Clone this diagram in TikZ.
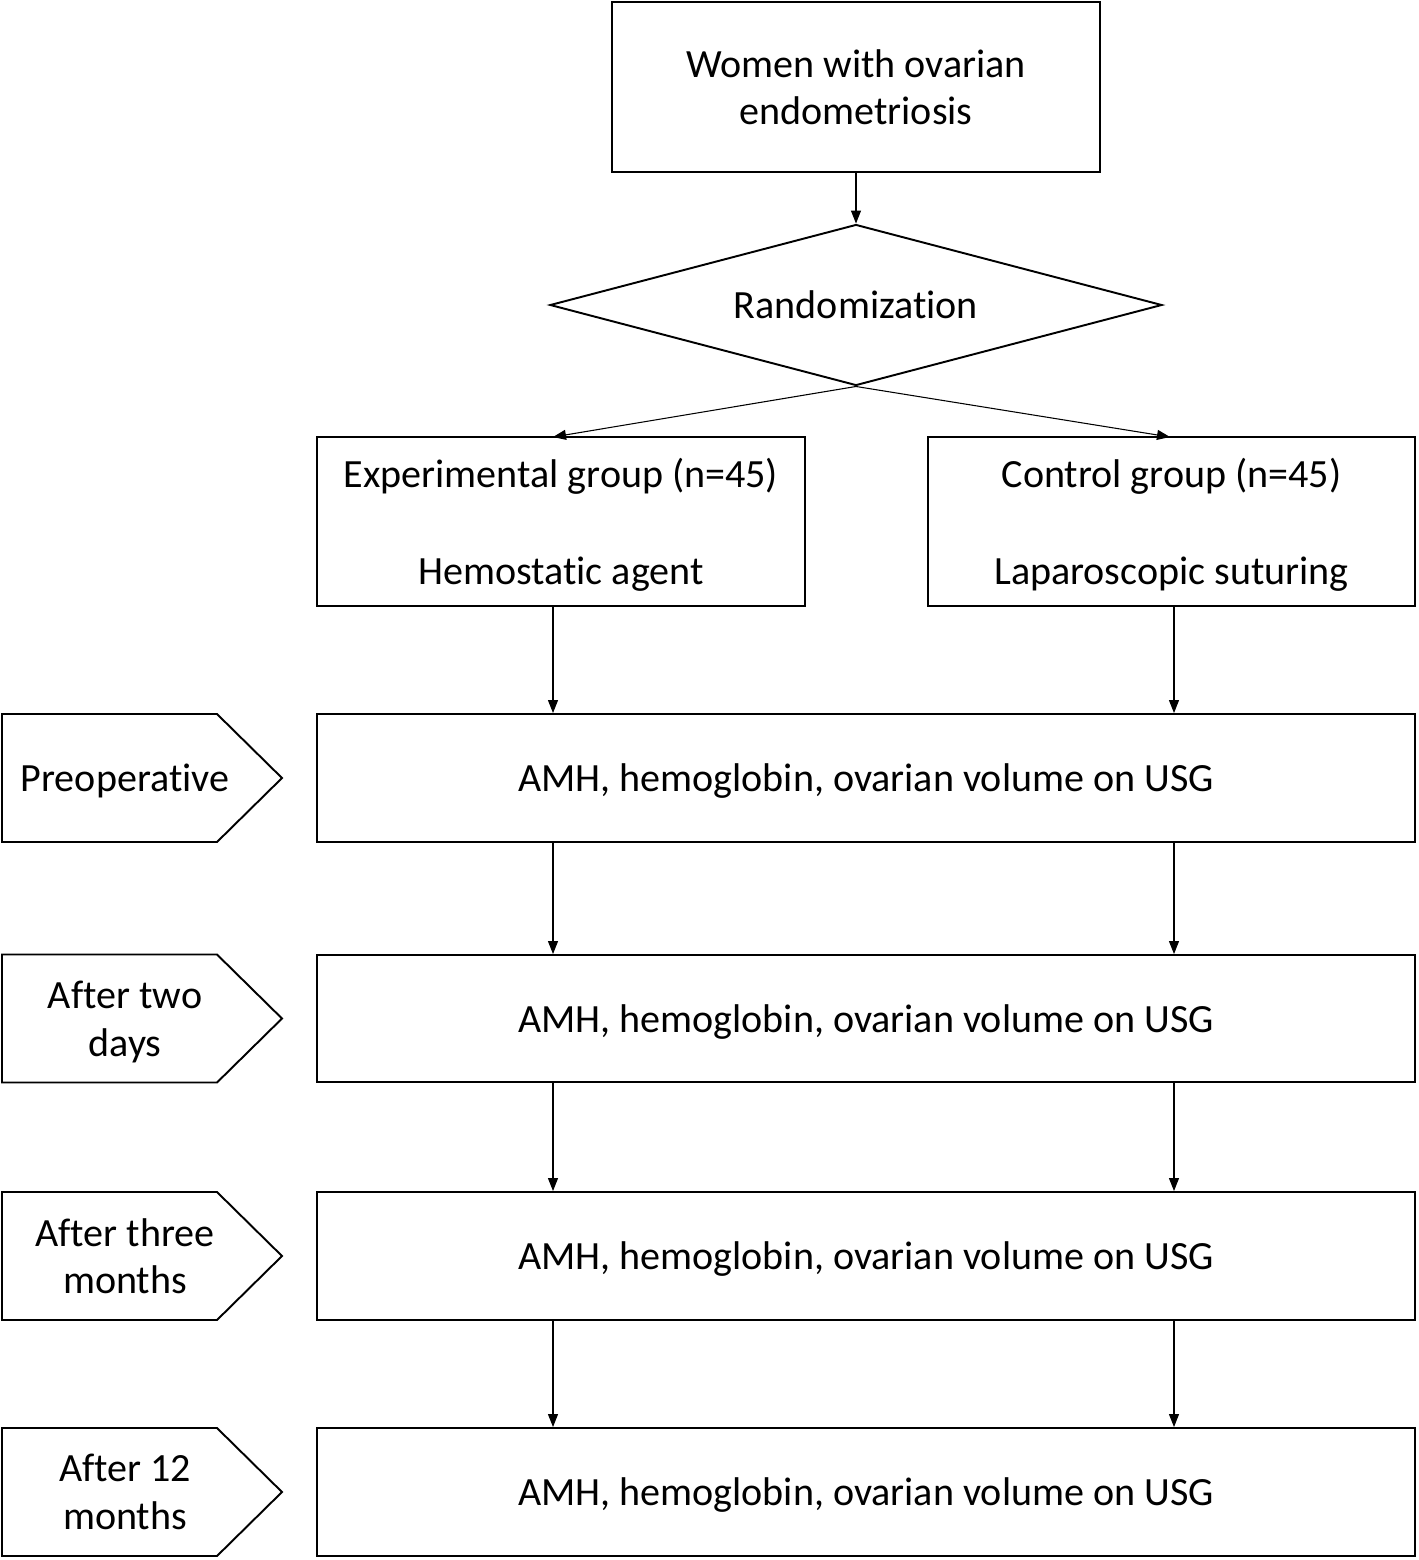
\documentclass[tikz,border=0pt]{standalone}
\usepackage{fontspec}
\setmainfont{Carlito}[Ligatures=NoCommon]
\usetikzlibrary{shapes.geometric,arrows.meta}
\begin{document}
\begin{tikzpicture}[x=0.02cm,y=-0.02cm,
  every node/.style={font=\fontsize{22.8}{27.2}\selectfont, text=black},
  box/.style={draw, line width=1.1pt, inner sep=0pt, align=center, text depth=0pt},
  arr/.style={line width=0.6pt, -{Triangle[length=0.26cm,width=0.2cm]}},
  tag/.style={draw, line width=1.1pt},
  lbl/.style={inner sep=0pt, align=center, text depth=0pt}]
\useasboundingbox (0,0) rectangle (1418,1560);
% top
\node[box, minimum width=488*0.02cm, minimum height=170*0.02cm] (top) at (856,87) {Women with ovarian\\endometriosis};
\node[draw, diamond, aspect=3.8, line width=1.1pt, inner sep=0pt, minimum width=612*0.02cm, minimum height=161*0.02cm] (rand) at (856,305) {Randomization};
\node[box, minimum width=488*0.02cm, minimum height=169*0.02cm] (exp) at (561,521.5) {Experimental group (n=45)\\[0.98cm]Hemostatic agent};
\node[box, minimum width=487*0.02cm, minimum height=169*0.02cm] (ctl) at (1171.5,521.5) {Control group (n=45)\\[0.98cm]Laparoscopic suturing};
% rows
\foreach \n/\y/\h in {r1/778/128, r2/1018.5/127, r3/1256/128, r4/1492/128}{
  \node[box, minimum width=1098*0.02cm, minimum height=\h*0.02cm] (\n) at (866,\y) {AMH, hemoglobin, ovarian volume on USG};
}
% tags
\foreach \n/\y/\t in {t1/778/{Preoperative}, t2/1018.5/{After two\\days}, t3/1256/{After three\\months}, t4/1492/{After 12\\months}}{
  \draw[tag] (2,\y-64) -- (217,\y-64) -- (282,\y) -- (217,\y+64) -- (2,\y+64) -- cycle;
  \node[lbl] (\n) at (125,\y) {\t};
}
% connectors
\draw[arr] (top.south) -- (rand.north);
\coordinate (ea) at (553,437);
\coordinate (ca) at (1170,437);
\draw[arr] (rand.south) -- (ea);
\draw[arr] (rand.south) -- (ca);
\draw[arr] (exp.south -| 553,0) -- (r1.north -| 553,0);
\draw[arr] (ctl.south -| 1174,0) -- (r1.north -| 1174,0);
\draw[arr] (r1.south -| 553,0) -- (r2.north -| 553,0);
\draw[arr] (r1.south -| 1174,0) -- (r2.north -| 1174,0);
\draw[arr] (r2.south -| 553,0) -- (r3.north -| 553,0);
\draw[arr] (r2.south -| 1174,0) -- (r3.north -| 1174,0);
\draw[arr] (r3.south -| 553,0) -- (r4.north -| 553,0);
\draw[arr] (r3.south -| 1174,0) -- (r4.north -| 1174,0);
\end{tikzpicture}
\end{document}
